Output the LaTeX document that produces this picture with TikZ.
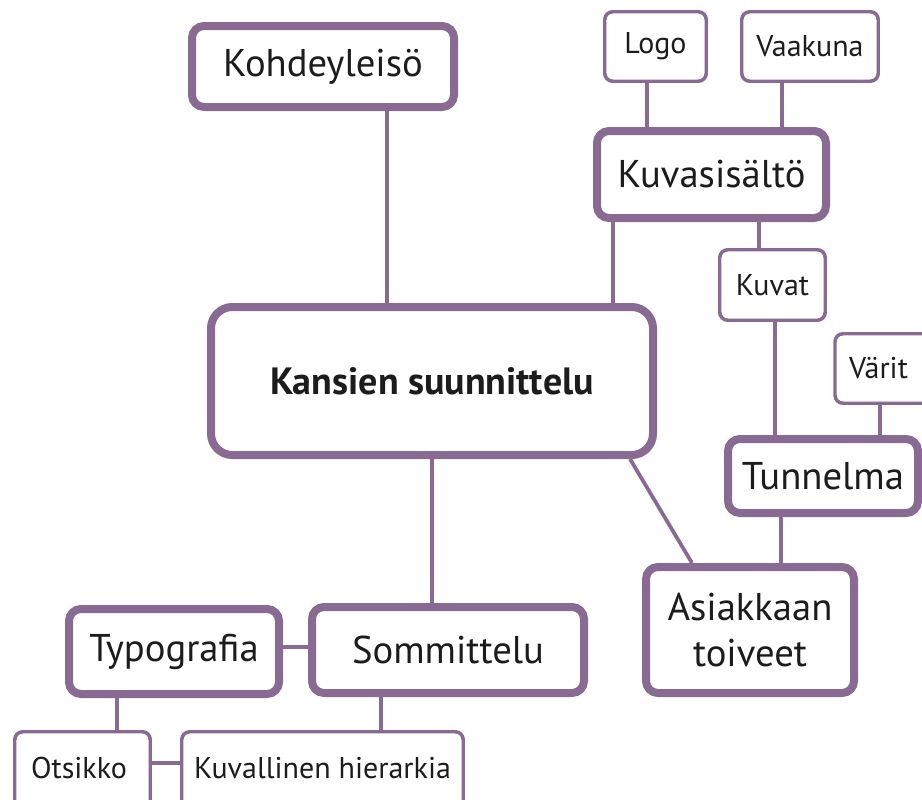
\documentclass[tikz,border=0pt]{standalone}
\usepackage{fontspec}
\setmainfont{PT Sans}
\usetikzlibrary{backgrounds}
\definecolor{purp}{RGB}{137,106,146}
\definecolor{ink}{RGB}{28,28,28}
\tikzset{
  thickbox/.style 2 args={draw=purp, line width=6pt, fill=white, rounded corners=9pt, inner sep=0pt,
    minimum width=#1*0.75pt, minimum height=#2*0.75pt, text=ink, font=\fontsize{29}{34}\selectfont},
  thinbox/.style 2 args={draw=purp, line width=2.6pt, fill=white, rounded corners=6pt, inner sep=0pt,
    minimum width=#1*0.75pt, minimum height=#2*0.75pt, text=ink, font=\fontsize{22.5}{26}\selectfont},
  smalltext/.style={text=ink, font=\fontsize{22.5}{26}\selectfont, anchor=base},
  link/.style={draw=purp, line width=2.8pt}
}
\begin{document}
\begin{tikzpicture}[x=0.75pt,y=-0.75pt]
\useasboundingbox (0,0) rectangle (922,800);
\clip (0,0) rectangle (922,800);
% thick boxes
\node[thickbox={262}{81}] (kohde) at (323,66.5) {Kohdeyleisö};
\node[thickbox={229}{87}] (kuvasis) at (711.5,174.5) {Kuvasisältö};
\node[thickbox={442}{148}, rounded corners=16pt, font=\fontsize{28.5}{34}\selectfont\bfseries] (main) at (432,381) {Kansien suunnittelu};
\node[thickbox={190}{74}] (tunnelma) at (823,476) {Tunnelma};
\node[thickbox={208}{126}, align=center] (asiak) at (750,630) {Asiakkaan\\toiveet};
\node[thickbox={210}{85}] (typo) at (174,651.5) {Typografia};
\node[thickbox={272}{86}] (somm) at (448,650) {Sommittelu};
% thin boxes
\node[thinbox={101.5}{69.5}] (logo) at (655.5,46.5) {Logo};
\node[thinbox={136.5}{69.5}] (vaakuna) at (810,46.5) {Vaakuna};
\node[thinbox={105.5}{70.5}] (kuvat) at (772.5,285) {Kuvat};
\node[thinbox={110}{69.5}, text width=98*0.75pt, align=left] (varit) at (890,368.5) {\hspace*{6pt}Värit};
\node[thinbox={135.5}{81.5}] (otsikko) at (82.5,772.5) {};
\node[thinbox={281.5}{81.5}] (kuvall) at (322.5,772.5) {};
\node[smalltext] (otsikkotxt) at (79,778) {Otsikko};
\node[smalltext] (kuvalltxt) at (322.5,778) {Kuvallinen hierarkia};
% connectors
\begin{pgfonlayer}{background}
\draw[link] (kohde.south -| 387,0) -- (main.north -| 387,0);
\draw[link] (logo.south -| 647,0) -- (kuvasis.north -| 647,0);
\draw[link] (vaakuna.south -| 782,0) -- (kuvasis.north -| 782,0);
\draw[link] (kuvasis.south -| 613,0) -- (main.north -| 613,0);
\draw[link] (kuvasis.south -| 759,0) -- (kuvat.north -| 759,0);
\draw[link] (kuvat.south -| 775,0) -- (tunnelma.north -| 775,0);
\draw[link] (varit.south -| 880,0) -- (tunnelma.north -| 880,0);
\draw[link] (tunnelma.south -| 781,0) -- (asiak.north -| 781,0);
\draw[link] (main.south -| 630,0) -- (asiak.north -| 692,0);
\draw[link] (main.south -| 432,0) -- (somm.north -| 432,0);
\draw[link] (typo.east |- 0,647) -- (somm.west |- 0,647);
\draw[link] (typo.south -| 117,0) -- (otsikko.north -| 117,0);
\draw[link] (somm.south -| 381,0) -- (kuvall.north -| 381,0);
\draw[link] (otsikko.east |- 0,763) -- (kuvall.west |- 0,763);
\end{pgfonlayer}
\end{tikzpicture}
\end{document}
